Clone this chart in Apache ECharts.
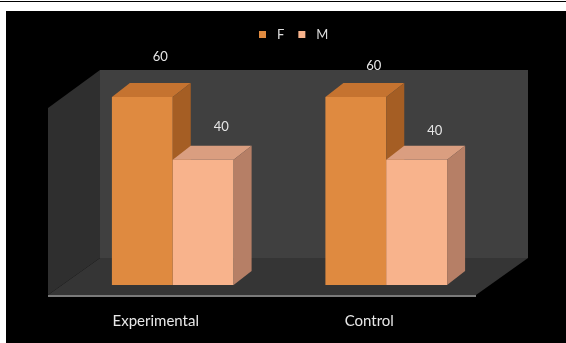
<!DOCTYPE html>
<html>
<head>
<meta charset="utf-8">
<script src="https://cdn.jsdelivr.net/npm/echarts@6/dist/echarts.min.js"></script>
<style>
  html, body { margin: 0; padding: 0; background: #ffffff; }
  #chart { width: 566px; height: 343px; }
</style>
</head>
<body>
<div id="chart"></div>
<script>
// Group labels and values per series
const categories = ['Experimental', 'Control'];
const seriesNames = ['F', 'M'];
const valuesF = [60, 60];
const valuesM = [40, 40];

// Visual constants for the pseudo-3D bars
const DEPTH_X = 18;
const DEPTH_Y = 14;
const BAR_FRACTION = 0.285;
const FONT = 'Lato, "Open Sans", sans-serif';

const paletteF = { front: '#DF8A40', top: '#C57330', side: '#A55E24' };
const paletteM = { front: '#F8B38C', top: '#DA9E80', side: '#B67F66' };

// lift of the value label above the back edge of each bar's top face, per group
const labelLiftF = [26, 17];
const labelLiftM = [19, 15];

function boxRenderer(side, pal, lifts) {
  return function (params, api) {
    const ci = api.value(0);
    const v = api.value(1);
    const base = api.coord([ci, 0]);
    const top = api.coord([ci, v]);
    const w = api.size([1, 0])[0] * BAR_FRACTION;
    const x0 = side < 0 ? base[0] - w : base[0];
    const x1 = x0 + w;
    const yt = top[1], yb = base[1];
    return {
      type: 'group',
      children: [
        { type: 'rect', shape: { x: x0, y: yt, width: w, height: yb - yt },
          style: { fill: pal.front } },
        { type: 'polygon', shape: { points: [[x0, yt], [x0 + DEPTH_X, yt - DEPTH_Y], [x1 + DEPTH_X, yt - DEPTH_Y], [x1, yt]] },
          style: { fill: pal.top } },
        { type: 'polygon', shape: { points: [[x1, yt], [x1 + DEPTH_X, yt - DEPTH_Y], [x1 + DEPTH_X, yb - DEPTH_Y], [x1, yb]] },
          style: { fill: pal.side } },
        { type: 'text', style: {
            text: String(v), x: (x0 + x1) / 2 + DEPTH_X, y: yt - DEPTH_Y - lifts[ci],
            fill: '#e6e6e6', font: '13px ' + FONT, align: 'center', verticalAlign: 'middle' } }
      ]
    };
  };
}

const chart = echarts.init(document.getElementById('chart'), null, { renderer: 'canvas' });

const option = {
  backgroundColor: '#ffffff',
  animation: false,
  graphic: [
    // frame
    { type: 'rect', z: -10, shape: { x: 0, y: 1, width: 566, height: 1 }, style: { fill: '#000' } },
    { type: 'rect', z: -10, shape: { x: 6, y: 11, width: 560, height: 332 }, style: { fill: '#000' } },
    // back wall
    { type: 'rect', z: -9, shape: { x: 100, y: 70, width: 428, height: 188 }, style: { fill: '#404040' } },
    // left wall
    { type: 'polygon', z: -9, shape: { points: [[100, 70], [48, 108], [48, 295], [100, 258]] }, style: { fill: '#2f2f2f' } },
    // floor
    { type: 'polygon', z: -9, shape: { points: [[100, 258], [528, 258], [476, 295], [48, 295]] }, style: { fill: '#353535' } },
    { type: 'rect', z: -9, shape: { x: 48, y: 295, width: 428, height: 2 }, style: { fill: '#7a7a7a' } }
  ],
  legend: {
    data: seriesNames,
    left: 254,
    top: 23,
    icon: 'rect',
    itemWidth: 7,
    itemHeight: 7,
    itemGap: 14,
    textStyle: { color: '#dddddd', fontSize: 13, fontFamily: FONT, padding: [0, 0, 0, 6] }
  },
  grid: { left: 66, right: 73, top: 97, bottom: 58 },
  xAxis: {
    type: 'category',
    data: categories,
    axisLine: { show: false },
    axisTick: { show: false },
    axisLabel: { color: '#e8e8e8', fontSize: 15, fontFamily: FONT, margin: 29, padding: [0, 34, 0, 0] }
  },
  yAxis: { type: 'value', min: 0, max: 60, show: false },
  series: [
    { name: 'F', type: 'custom', z: 2, itemStyle: { color: paletteF.front },
      data: valuesF.map((v, i) => [i, v]), encode: { x: 0, y: 1 },
      renderItem: boxRenderer(-1, paletteF, labelLiftF) },
    { name: 'M', type: 'custom', z: 3, itemStyle: { color: paletteM.front },
      data: valuesM.map((v, i) => [i, v]), encode: { x: 0, y: 1 },
      renderItem: boxRenderer(1, paletteM, labelLiftM) }
  ]
};

chart.setOption(option);
</script>
</body>
</html>
